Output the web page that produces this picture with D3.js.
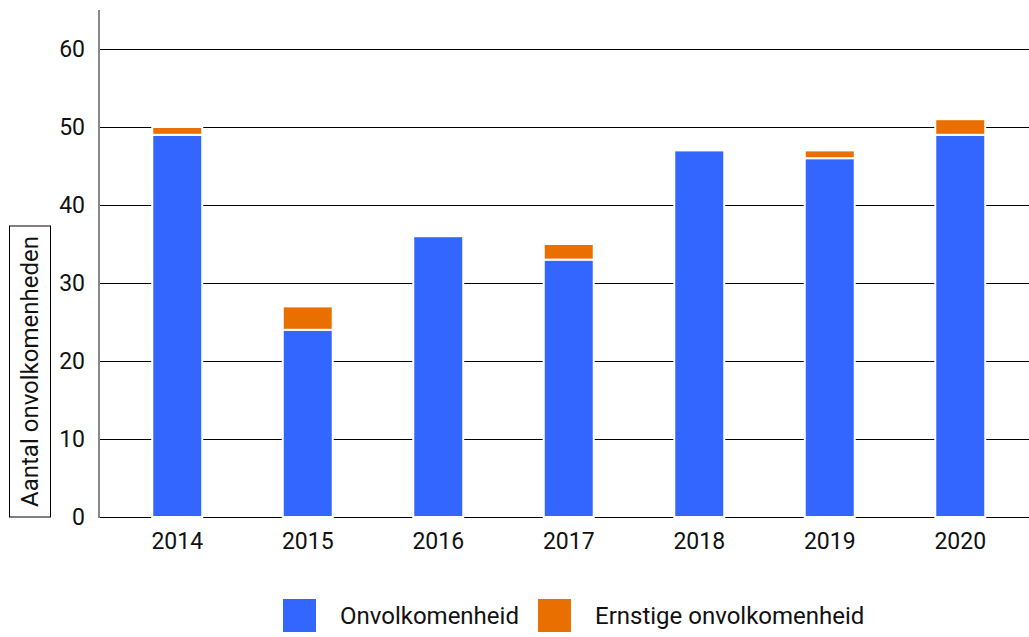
<!DOCTYPE html>
<html>
<head>
<meta charset="utf-8">
<script src="https://cdn.jsdelivr.net/npm/d3@7"></script>
<style>
  body { margin: 0; background: #fff; }
  text { font-family: Roboto, "Noto Sans", sans-serif; fill: #111; }
</style>
</head>
<body>
<div id="container"></div>
<script>
/* DATA */
const years = ["2014", "2015", "2016", "2017", "2018", "2019", "2020"]
const onvolkomenheid = [49, 24, 36, 33, 47, 46, 49]
const ernstige = [1, 3, 0, 2, 0, 1, 2]
const seriesNames = ["Onvolkomenheid", "Ernstige onvolkomenheid"]
const colors = ["#3366ff", "#e86f00"]
const yTicks = [0, 10, 20, 30, 40, 50, 60]

const width = 1029, height = 637

const svg = d3.select("#container").append("svg")
  .attr("width", width)
  .attr("height", height)

// SCALES
const y = d3.scaleLinear().domain([0, 60]).range([517, 49])
const x = d3.scaleBand().domain(years).range([112, 1025.5]).paddingInner(0.617).paddingOuter(0.3085)

// gridlines
svg.append("g")
  .selectAll("line")
  .data(yTicks)
  .join("line")
  .attr("x1", 100).attr("x2", width)
  .attr("y1", d => y(d) + 0.5).attr("y2", d => y(d) + 0.5)
  .attr("stroke", "#000").attr("stroke-width", 1)
  .attr("shape-rendering", "crispEdges")

// y tick labels
svg.append("g")
  .selectAll("text")
  .data(yTicks)
  .join("text")
  .attr("x", 85).attr("y", d => y(d))
  .attr("dy", "0.35em")
  .attr("text-anchor", "end")
  .attr("font-size", 23)
  .text(d => d)

// stacked bars
const rows = years.map((yr, i) => ({ year: yr, a: onvolkomenheid[i], b: ernstige[i] }))
const stack = d3.stack().keys(["a", "b"])(rows)

svg.append("g")
  .selectAll("g")
  .data(stack)
  .join("g")
  .attr("fill", (d, i) => colors[i])
  .selectAll("rect")
  .data(d => d.filter(s => s[1] > s[0]))
  .join("rect")
  .attr("x", d => x(d.data.year))
  .attr("width", x.bandwidth())
  .attr("y", d => y(d[1]))
  .attr("height", d => y(d[0]) - y(d[1]))
  .attr("stroke", "#fff")
  .attr("stroke-width", 2)

// y axis line
svg.append("line")
  .attr("x1", 99).attr("x2", 99)
  .attr("y1", 10).attr("y2", 518)
  .attr("stroke", "#888").attr("stroke-width", 2)

// x labels
svg.append("g")
  .selectAll("text")
  .data(years)
  .join("text")
  .attr("x", d => x(d) + x.bandwidth() / 2)
  .attr("y", 549)
  .attr("text-anchor", "middle")
  .attr("font-size", 23)
  .text(d => d)

// y axis title with box
const yTitle = svg.append("g").attr("transform", "translate(30,371.5) rotate(-90)")
yTitle.append("rect")
  .attr("x", -145.5).attr("y", -20.5)
  .attr("width", 291).attr("height", 41)
  .attr("fill", "#fff").attr("stroke", "#000").attr("stroke-width", 1)
yTitle.append("text")
  .attr("text-anchor", "middle")
  .attr("dy", "0.35em")
  .attr("font-size", 24)
  .text("Aantal onvolkomenheden")

// legend
const legendX = [283, 538]
const legend = svg.append("g")
  .selectAll("g")
  .data(seriesNames)
  .join("g")
  .attr("transform", (d, i) => `translate(${legendX[i]},599)`)
legend.append("rect")
  .attr("width", 33).attr("height", 33)
  .attr("fill", (d, i) => colors[i])
legend.append("text")
  .attr("x", 57).attr("y", 17)
  .attr("dy", "0.35em")
  .attr("font-size", 24)
  .text(d => d)
</script>
</body>
</html>
